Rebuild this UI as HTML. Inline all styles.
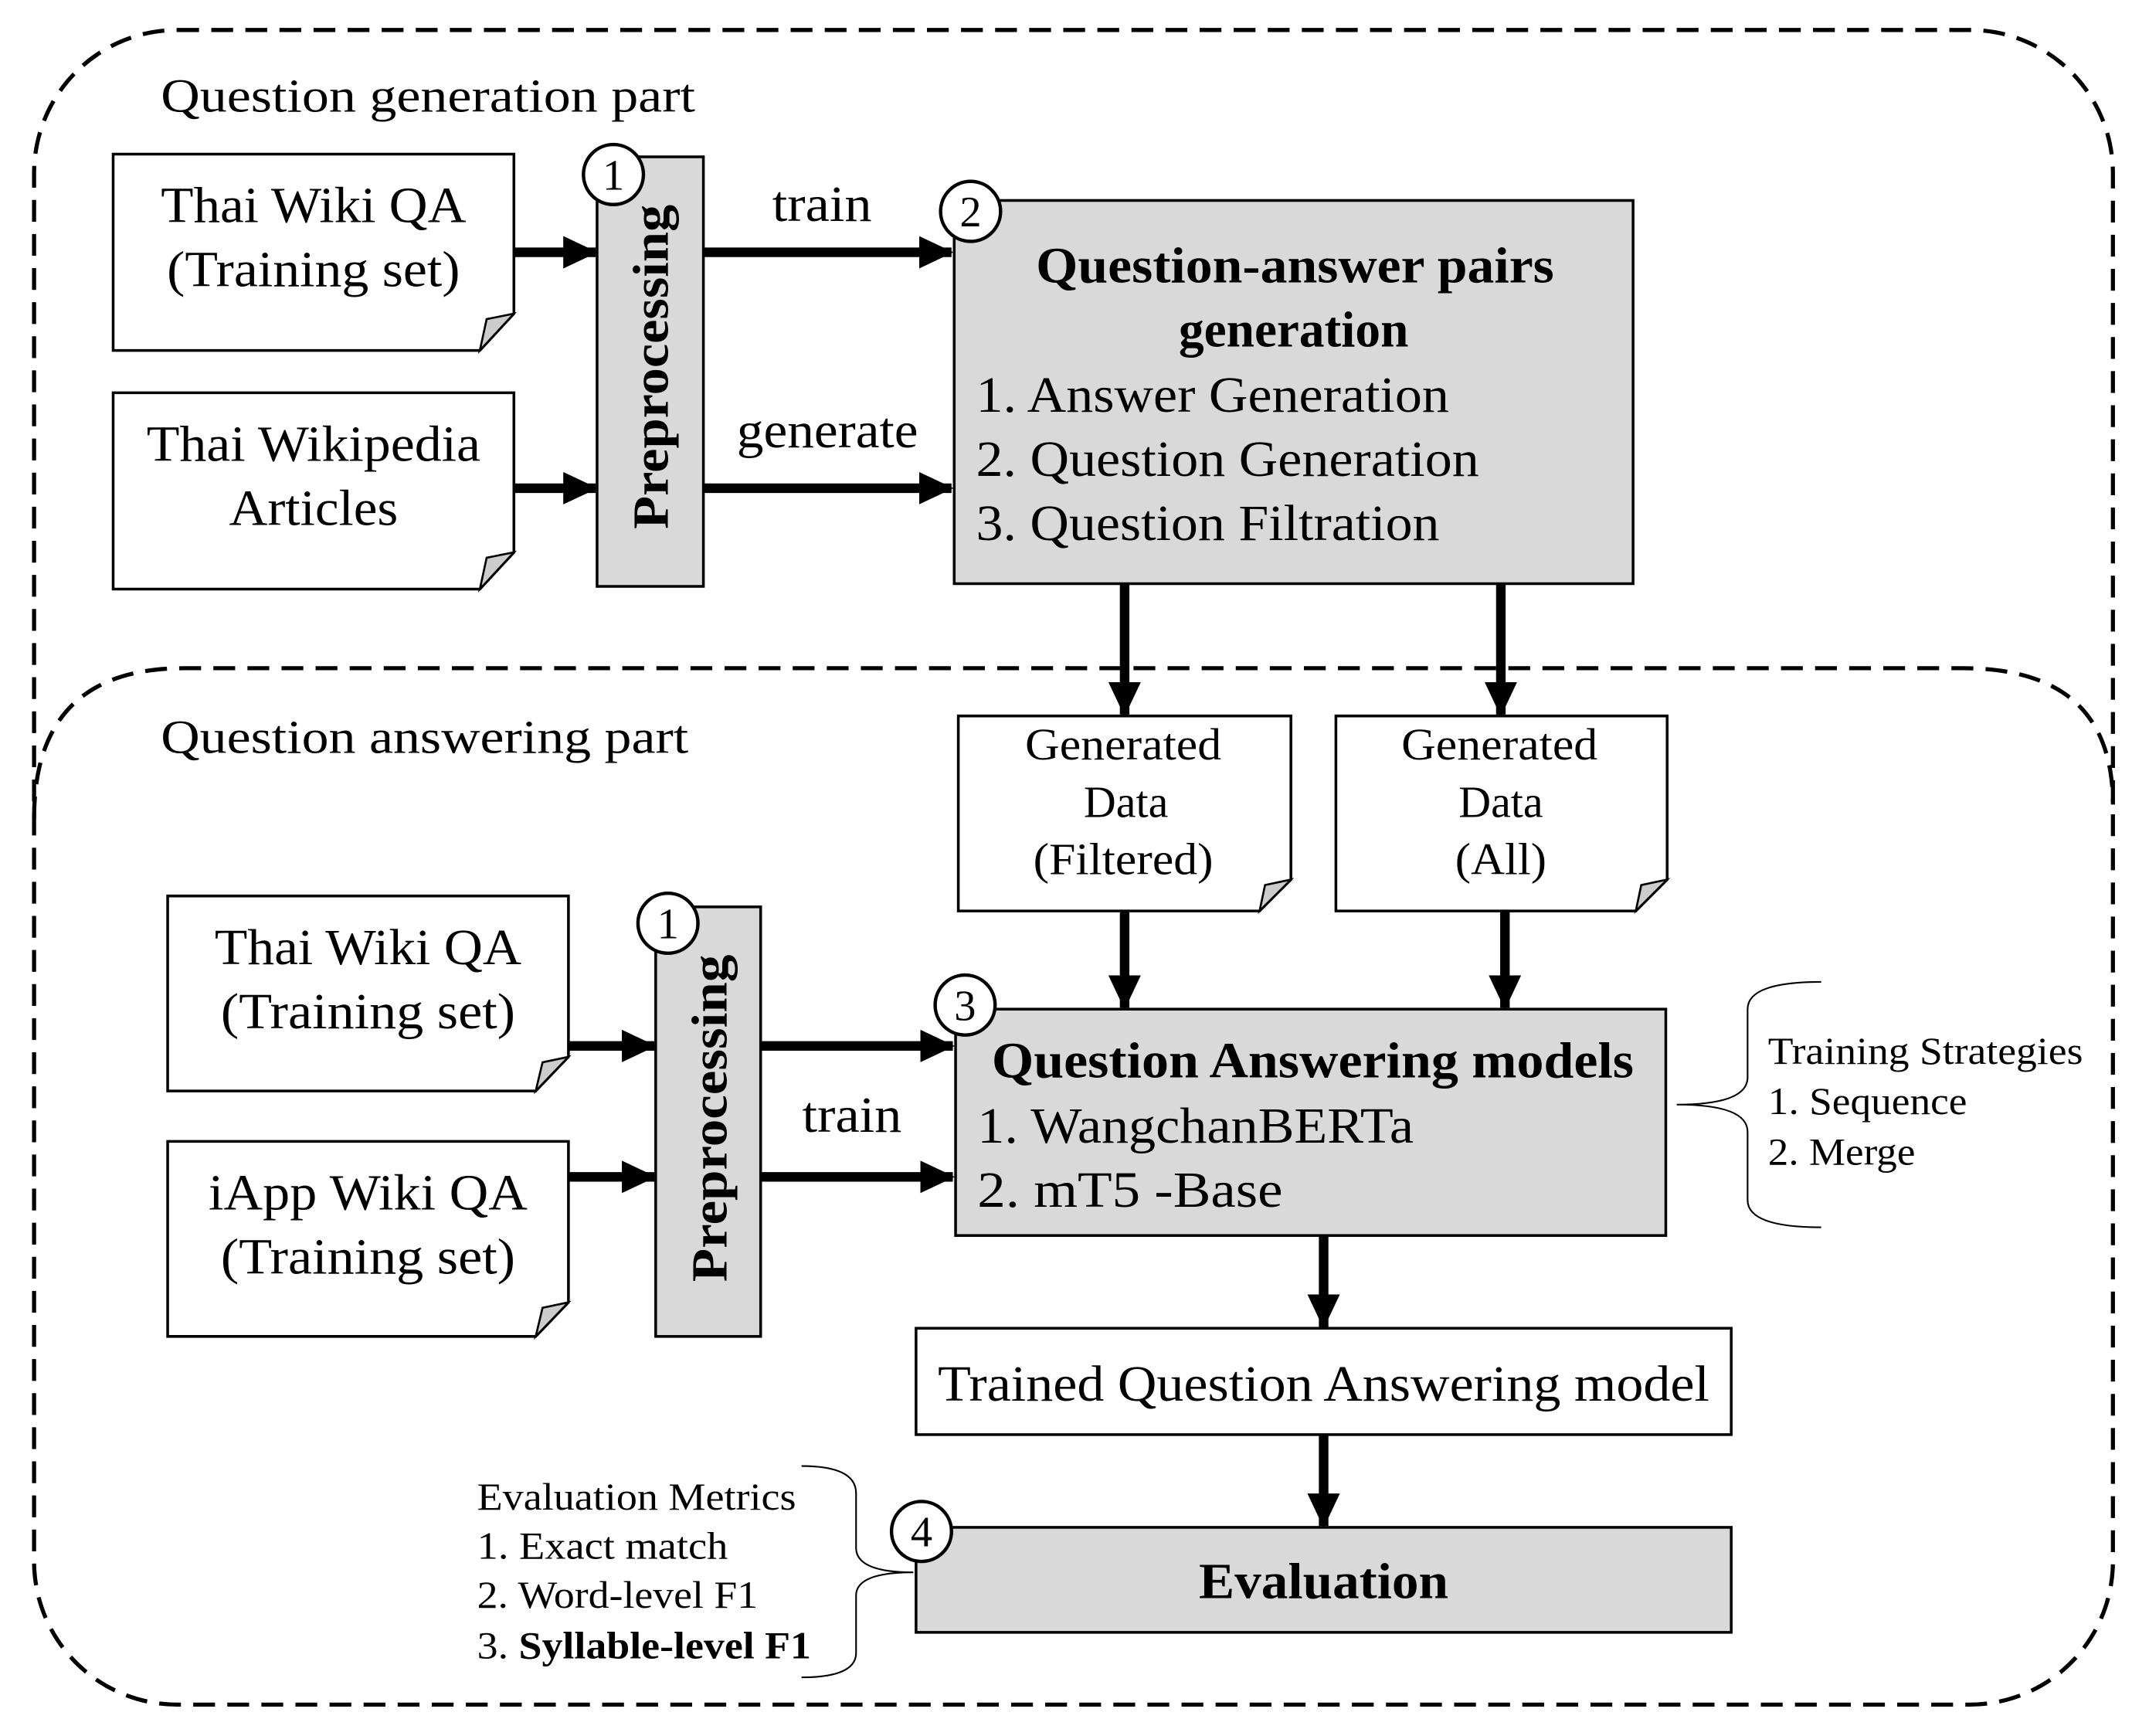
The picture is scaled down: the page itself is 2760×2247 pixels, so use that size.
<!DOCTYPE html>
<html><head><style>html,body{margin:0;padding:0;background:#fff;}svg{display:block;}</style></head>
<body>
<svg width="2760" height="2247" viewBox="0 0 1564 1273" preserveAspectRatio="none" xmlns="http://www.w3.org/2000/svg" font-family="'Liberation Serif', serif">
<defs>
<marker id="a" markerWidth="3.6" markerHeight="3.4" refX="3.4" refY="1.7" orient="auto" markerUnits="strokeWidth">
<path d="M0,0 L3.6,1.7 L0,3.4 z" fill="#000"/></marker>
</defs>
<g fill="none" stroke="#000" stroke-width="3" stroke-dasharray="16,9">
<rect x="25" y="22" width="1525" height="1228" rx="105" ry="105"/>
<path d="M25,600 Q25,490 135,490 L1440,490 Q1550,490 1550,590"/>
</g>
<g font-size="35">
<text x="118" y="82" textLength="392" lengthAdjust="spacingAndGlyphs">Question generation part</text>
<text x="118" y="552" textLength="387" lengthAdjust="spacingAndGlyphs">Question answering part</text>
</g>
<g fill="#fff" stroke="#000" stroke-width="2">
<path d="M83,113 H377 V230 L352,257 H83 Z"/>
<path d="M83,288 H377 V405 L352,432 H83 Z"/>
<path d="M703,525 H947 V645 L924,668 H703 Z"/>
<path d="M980,525 H1223 V645 L1200,668 H980 Z"/>
<path d="M123,657 H417 V775 L393,800 H123 Z"/>
<path d="M123,837 H417 V955 L393,980 H123 Z"/>
</g>
<g fill="#ccc" stroke="#000" stroke-width="1.5">
<path d="M377,230 L352,257 L357,234 Z"/>
<path d="M377,405 L352,432 L357,409 Z"/>
<path d="M947,645 L924,668 L928,649 Z"/>
<path d="M1223,645 L1200,668 L1204,649 Z"/>
<path d="M417,775 L393,800 L398,779 Z"/>
<path d="M417,955 L393,980 L398,959 Z"/>
</g>
<g fill="#d9d9d9" stroke="#000" stroke-width="2">
<rect x="438" y="115" width="78" height="315"/>
<rect x="700" y="147" width="498" height="281"/>
<rect x="481" y="665" width="77" height="315"/>
<rect x="701" y="740" width="521" height="166"/>
<rect x="672" y="1120" width="598" height="77"/>
</g>
<rect x="672" y="974" width="598" height="78" fill="#fff" stroke="#000" stroke-width="2"/>
<g stroke="#000" stroke-width="7" marker-end="url(#a)">
<line x1="377" y1="185" x2="437" y2="185"/>
<line x1="377" y1="358" x2="437" y2="358"/>
<line x1="516" y1="185" x2="698" y2="185"/>
<line x1="516" y1="358" x2="698" y2="358"/>
<line x1="825" y1="428" x2="825" y2="524"/>
<line x1="1101" y1="428" x2="1101" y2="524"/>
<line x1="825" y1="668" x2="825" y2="739"/>
<line x1="1104" y1="668" x2="1104" y2="739"/>
<line x1="417" y1="767" x2="480" y2="767"/>
<line x1="417" y1="863" x2="480" y2="863"/>
<line x1="558" y1="767" x2="699" y2="767"/>
<line x1="558" y1="863" x2="699" y2="863"/>
<line x1="971" y1="906" x2="971" y2="973"/>
<line x1="971" y1="1052" x2="971" y2="1119"/>
</g>
<g fill="#fff" stroke="#000" stroke-width="2.5">
<circle cx="450" cy="128" r="22"/>
<circle cx="712" cy="155" r="22"/>
<circle cx="490" cy="677" r="22"/>
<circle cx="708" cy="737" r="22"/>
<circle cx="676" cy="1123" r="22"/>
</g>
<g font-size="32" text-anchor="middle">
<text x="450" y="139">1</text>
<text x="712" y="166">2</text>
<text x="490" y="688">1</text>
<text x="708" y="748">3</text>
<text x="676" y="1134">4</text>
</g>
<g font-size="37" text-anchor="middle">
<text x="230" y="163" textLength="224" lengthAdjust="spacingAndGlyphs">Thai Wiki QA</text>
<text x="230" y="210" textLength="215" lengthAdjust="spacingAndGlyphs">(Training set)</text>
<text x="230" y="338" textLength="245" lengthAdjust="spacingAndGlyphs">Thai Wikipedia</text>
<text x="230" y="385" textLength="124" lengthAdjust="spacingAndGlyphs">Articles</text>
<text x="270" y="707" textLength="225" lengthAdjust="spacingAndGlyphs">Thai Wiki QA</text>
<text x="270" y="754" textLength="216" lengthAdjust="spacingAndGlyphs">(Training set)</text>
<text x="270" y="887" textLength="234" lengthAdjust="spacingAndGlyphs">iApp Wiki QA</text>
<text x="270" y="934" textLength="216" lengthAdjust="spacingAndGlyphs">(Training set)</text>
<text x="603" y="162" textLength="73" lengthAdjust="spacingAndGlyphs">train</text>
<text x="607" y="328" textLength="133" lengthAdjust="spacingAndGlyphs">generate</text>
<text x="625" y="830" textLength="73" lengthAdjust="spacingAndGlyphs">train</text>
<text x="971" y="1027" textLength="566" lengthAdjust="spacingAndGlyphs">Trained Question Answering model</text>
</g>
<g font-size="33" text-anchor="middle">
<text x="824" y="557" textLength="144" lengthAdjust="spacingAndGlyphs">Generated</text>
<text x="826" y="599" textLength="62" lengthAdjust="spacingAndGlyphs">Data</text>
<text x="824" y="641" textLength="132" lengthAdjust="spacingAndGlyphs">(Filtered)</text>
<text x="1100" y="557" textLength="144" lengthAdjust="spacingAndGlyphs">Generated</text>
<text x="1101" y="599" textLength="62" lengthAdjust="spacingAndGlyphs">Data</text>
<text x="1101" y="641" textLength="67" lengthAdjust="spacingAndGlyphs">(All)</text>
</g>
<g font-size="37" font-weight="bold" text-anchor="middle">
<text x="950" y="207" textLength="380" lengthAdjust="spacingAndGlyphs">Question-answer pairs</text>
<text x="949" y="254">generation</text>
<text x="963" y="790" textLength="471" lengthAdjust="spacingAndGlyphs">Question Answering models</text>
<text x="971" y="1172" textLength="183" lengthAdjust="spacingAndGlyphs">Evaluation</text>
<text transform="translate(490,269) rotate(-90)" textLength="238" lengthAdjust="spacingAndGlyphs">Preprocessing</text>
<text transform="translate(533,820) rotate(-90)" textLength="240" lengthAdjust="spacingAndGlyphs">Preprocessing</text>
</g>
<g font-size="37">
<text x="716" y="302" textLength="347" lengthAdjust="spacingAndGlyphs">1. Answer Generation</text>
<text x="716" y="349" textLength="369" lengthAdjust="spacingAndGlyphs">2. Question Generation</text>
<text x="716" y="396" textLength="340" lengthAdjust="spacingAndGlyphs">3. Question Filtration</text>
<text x="717" y="838" textLength="320" lengthAdjust="spacingAndGlyphs">1. WangchanBERTa</text>
<text x="717" y="885" textLength="224" lengthAdjust="spacingAndGlyphs">2. mT5  -Base</text>
</g>
<g font-size="28">
<text x="1297" y="780" textLength="231" lengthAdjust="spacingAndGlyphs">Training Strategies</text>
<text x="1297" y="817" textLength="146" lengthAdjust="spacingAndGlyphs">1. Sequence</text>
<text x="1297" y="854" textLength="108" lengthAdjust="spacingAndGlyphs">2. Merge</text>
<text x="350" y="1107" textLength="234" lengthAdjust="spacingAndGlyphs">Evaluation Metrics</text>
<text x="350" y="1143" textLength="184" lengthAdjust="spacingAndGlyphs">1. Exact match</text>
<text x="350" y="1179" textLength="206" lengthAdjust="spacingAndGlyphs">2. Word-level F1</text>
<text x="350" y="1216" textLength="245" lengthAdjust="spacingAndGlyphs">3. <tspan font-weight="bold">Syllable-level F1</tspan></text>
</g>
<g fill="none" stroke="#000" stroke-width="1.2">
<path d="M1336,720 Q1282,720 1282,740 L1282,790 Q1282,810 1230,810 Q1282,810 1282,830 L1282,880 Q1282,900 1336,900"/>
<path d="M588,1075 Q628,1075 628,1095 L628,1135 Q628,1153 670,1153 Q628,1153 628,1170 L628,1212 Q628,1230 588,1230"/>
</g>
</svg>
</body></html>
